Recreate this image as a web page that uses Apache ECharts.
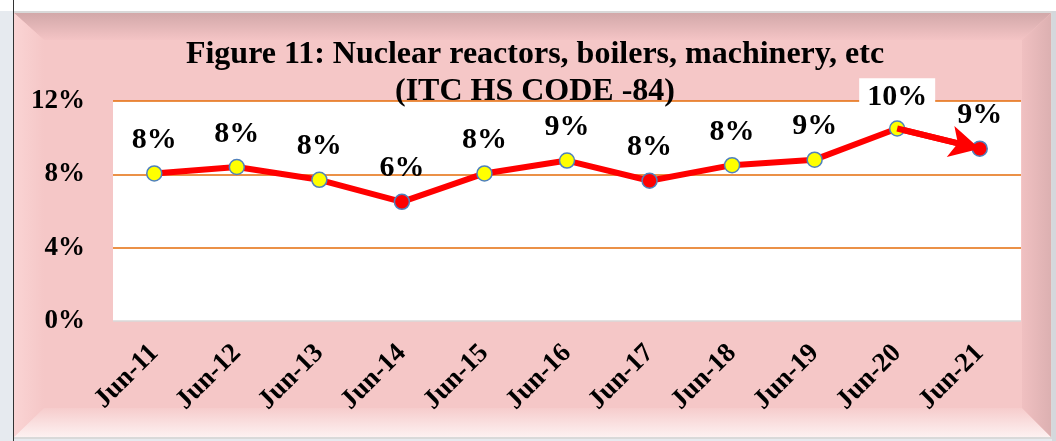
<!DOCTYPE html>
<html><head><meta charset="utf-8">
<script src="https://cdn.jsdelivr.net/npm/echarts@6/dist/echarts.min.js"></script>
<style>html,body{margin:0;padding:0;background:#fff}#c{width:1056px;height:441px}</style>
</head><body><div id="c"></div>
<script>
var categories = ['Jun-11','Jun-12','Jun-13','Jun-14','Jun-15','Jun-16','Jun-17','Jun-18','Jun-19','Jun-20','Jun-21'];
var values = [8.05, 8.4, 7.7, 6.5, 8.05, 8.75, 7.65, 8.5, 8.8, 10.5, 9.4];
var labels = ['8%','8%','8%','6%','8%','9%','8%','8%','9%','10%','9%'];
var redPoints = ['Jun-14','Jun-17','Jun-21'];
var yTicks = [0, 4, 8, 12];

var F = '"Liberation Serif", "Times New Roman", serif';
var chart = echarts.init(document.getElementById('c'));
var data = values.map(function (v, i) {
  var red = redPoints.indexOf(categories[i]) >= 0;
  var d = { value: v, itemStyle: { color: red ? '#ff0000' : '#ffff00' } };
  if (categories[i] === 'Jun-20') {
    d.label = { backgroundColor: '#ffffff', padding: [4, 8, 0, 8], distance: 8 };
  }
  return d;
});
chart.setOption({
  backgroundColor: '#ffffff',
  animation: false,
  graphic: [
    { type: 'rect', z: -100, shape: { x: 0, y: 11, width: 1056, height: 430 }, style: { fill: '#e6eaef' } },
    { type: 'rect', z: -99, shape: { x: 13, y: 11, width: 1040, height: 428 }, style: { fill: '#d9d9d9' } },
    { type: 'rect', z: -98, shape: { x: 14, y: 13, width: 1037, height: 424 }, style: { fill: '#f5c7c7' } },
    { type: 'polygon', z: -97, shape: { points: [[14,13],[1051,13],[1022,40],[44,40]] },
      style: { fill: new echarts.graphic.LinearGradient(0,0,0,1,[{offset:0,color:'#d2a8a9'},{offset:1,color:'#f4c4c5'}]) } },
    { type: 'polygon', z: -97, shape: { points: [[14,13],[44,40],[44,408],[14,437]] },
      style: { fill: new echarts.graphic.LinearGradient(0,0,1,0,[{offset:0,color:'#fad4d4'},{offset:1,color:'#f5c7c7'}]) } },
    { type: 'polygon', z: -97, shape: { points: [[14,437],[44,408],[1022,408],[1051,437]] },
      style: { fill: new echarts.graphic.LinearGradient(0,0,0,1,[{offset:0,color:'#f6cccc'},{offset:1,color:'#fdf1f1'}]) } },
    { type: 'polygon', z: -97, shape: { points: [[1051,13],[1051,437],[1022,408],[1022,40]] },
      style: { fill: new echarts.graphic.LinearGradient(0,0,1,0,[{offset:0,color:'#f0c0c1'},{offset:1,color:'#dcb0b1'}]) } },
    { type: 'rect', z: -96, shape: { x: 1052, y: 11, width: 4, height: 430 }, style: { fill: '#d4d8dc' } },
    { type: 'line', z: 50, shape: { x1: 13.5, y1: 0, x2: 13.5, y2: 441 }, style: { stroke: '#333', lineWidth: 1 } }
  ],
  title: {
    text: 'Figure 11: Nuclear reactors, boilers, machinery, etc\n(ITC HS CODE -84)',
    left: 530, top: 31, textAlign: 'center',
    textStyle: { fontFamily: F, fontWeight: 'bold', fontSize: 32, lineHeight: 37, color: '#000' }
  },
  grid: { left: 113, right: 35, top: 101, bottom: 120, show: true, backgroundColor: '#ffffff', borderWidth: 0, containLabel: false },
  xAxis: {
    type: 'category', data: categories, boundaryGap: true,
    axisLine: { show: false }, axisTick: { show: false },
    axisLabel: { rotate: 45, margin: 28, fontFamily: F, fontWeight: 'bold', fontSize: 27, color: '#000' }
  },
  yAxis: {
    type: 'value', min: yTicks[0], max: yTicks[yTicks.length - 1], interval: 4,
    axisLine: { show: false }, axisTick: { show: false },
    axisLabel: { margin: 28, fontFamily: F, fontWeight: 'bold', fontSize: 27, color: '#000',
      formatter: function (v) { return v + '%'; } },
    splitLine: { lineStyle: { color: ['#d9d9d9', '#e46c0a', '#e46c0a', '#e46c0a'], width: 1.5 } }
  },
  series: [{
    type: 'line', data: data, symbol: 'circle', symbolSize: 15,
    lineStyle: { color: '#ff0000', width: 6 },
    itemStyle: { borderColor: '#4f81bd', borderWidth: 1.5 },
    label: {
      show: true, position: 'top', distance: 10,
      fontFamily: F, fontWeight: 'bold', fontSize: 30, color: '#000',
      formatter: function (p) { return labels[p.dataIndex]; }
    },
    markLine: {
      silent: true, symbol: ['none', 'arrow'], symbolSize: [24, 30],
      label: { show: false },
      lineStyle: { color: '#ff0000', width: 6, type: 'solid' },
      data: [[
        { coord: [categories[9], values[9]] },
        { coord: [categories[10], values[10]] }
      ]]
    },
    z: 3
  }]
});
</script></body></html>
